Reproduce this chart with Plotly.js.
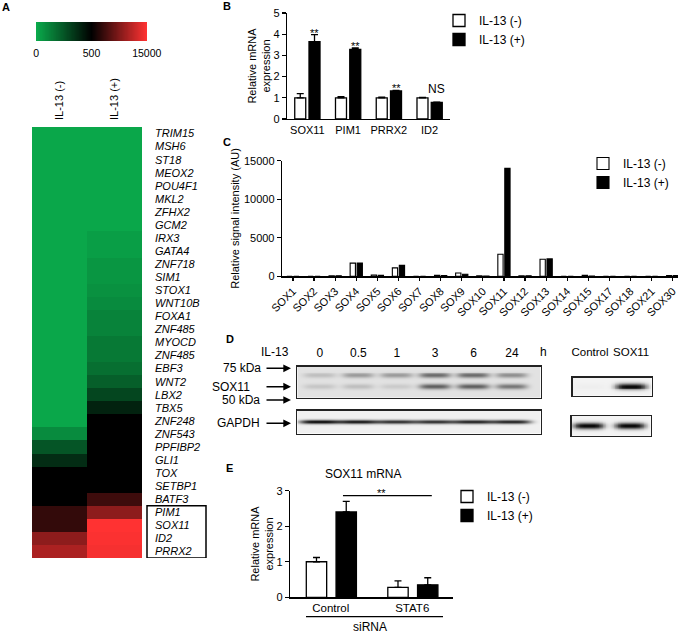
<!DOCTYPE html>
<html><head><meta charset="utf-8">
<script src="https://cdn.plot.ly/plotly-3.0.1.min.js"></script>
<style>html,body{margin:0;padding:0;background:#fff;}#chart{width:683px;height:635px;}</style>
</head><body><div id="chart"></div>
<script>
// ---------------- DATA ----------------
// Panel A heatmap (signal intensity estimates)
const heatGenes = ['TRIM15','MSH6','ST18','MEOX2','POU4F1','MKL2','ZFHX2','GCM2','IRX3','GATA4','ZNF718','SIM1','STOX1','WNT10B','FOXA1','ZNF485','MYOCD','ZNF485','EBF3','WNT2','LBX2','TBX5','ZNF248','ZNF543','PPFIBP2','GLI1','TOX','SETBP1','BATF3','PIM1','SOX11','ID2','PRRX2'];
const heatConditions = ['IL-13 (-)','IL-13 (+)'];
const heatMinus = [10,10,10,10,10,10,10,10,10,10,10,10,10,10,10,10,10,10,10,10,10,10,10,90,250,370,500,500,500,3400,3400,8500,10200];
const heatPlus  = [10,10,10,10,10,10,10,10,35,35,60,60,75,90,115,115,145,145,175,220,295,400,500,500,500,500,500,500,4000,8500,15000,14800,14500];
const heatBoxed = ['PIM1','SOX11','ID2','PRRX2'];
const cbTickValues = [0, 500, 15000];

// Panel B qPCR
const bGenes = ['SOX11','PIM1','PRRX2','ID2'];
const bMinus = [1.0, 1.0, 1.0, 1.0];
const bMinusErr = [0.2, 0.05, 0.03, 0.02];
const bPlus = [3.65, 3.28, 1.32, 0.78];
const bPlusErr = [0.33, 0.07, 0.03, 0.02];
const bSig = ['**','**','**','NS'];

// Panel C array signal
const cGenes = ['SOX1','SOX2','SOX3','SOX4','SOX5','SOX6','SOX7','SOX8','SOX9','SOX10','SOX11','SOX12','SOX13','SOX14','SOX15','SOX17','SOX18','SOX21','SOX30'];
const cMinus = [0, 0, 60, 1700, 150, 1080, 0, 120, 420, 40, 2850, 60, 2200, 0, 120, 0, 0, 0, 80];
const cPlus  = [0, 0, 60, 1700, 130, 1400, 0, 100, 260, 20, 14000, 50, 2250, 0, 20, 0, 0, 0, 80];
const cTicks = [0, 5000, 10000, 15000];

// Panel D western blot band intensities (0 = none, 1 = saturated)
const dTimes = ['0','0.5','1','3','6','24'];
const dUpperBand = [0.15, 0.3, 0.3, 0.5, 0.5, 0.35];
const dSox11Band = [0.12, 0.15, 0.1, 0.55, 0.55, 0.45];
const dGapdhBand = [0.95, 0.9, 0.8, 0.8, 0.85, 0.85];
const dCtrlLanes = ['Control','SOX11'];
const dCtrlSox11 = [0.02, 1.0];
const dCtrlGapdh = [1.0, 1.0];

// Panel E siRNA
const eGroups = ['Control','STAT6'];
const eMinus = [1.0, 0.28];
const eMinusErr = [0.12, 0.18];
const ePlus = [2.4, 0.35];
const ePlusErr = [0.3, 0.2];

// ---------------- HELPERS ----------------
const W = 683, H = 635;
const FONT = 'Liberation Sans, Arial, sans-serif';
const dx = (a,b) => [a/W, b/W];
const dy = (t,b) => [1-b/H, 1-t/H];
const px = p => p/W;
const py = p => 1-p/H;
function colorPos(v){ return v <= 500 ? 0.5*v/500 : 0.5 + 0.5*(v-500)/14500; }
const HEAT_CS = [[0,'rgb(10,170,75)'],[0.5,'rgb(0,0,0)'],[1,'rgb(255,50,50)']];
const BLOT_CS = [[0,'rgb(250,250,250)'],[1,'rgb(12,12,12)']];

function blotZ(xr, nx, ny, bg, bands){
  const xs=[], ys=[], z=[];
  for(let c=0;c<nx;c++) xs.push(xr[0]+(c+0.5)*(xr[1]-xr[0])/nx);
  for(let r=0;r<ny;r++) ys.push((r+0.5)/ny);
  for(let r=0;r<ny;r++){
    const row=[];
    for(let c=0;c<nx;c++){
      let v=bg;
      bands.forEach(b=>{
        const vy=Math.exp(-Math.pow((ys[r]-b.yc)/b.sy,2));
        b.vals.forEach((iv,i)=>{
          const hx=Math.exp(-Math.pow(Math.abs(xs[c]-i)/b.wx,4));
          v+=iv*hx*vy;
        });
      });
      row.push(Math.min(1,v));
    }
    z.push(row);
  }
  return {x:xs,y:ys,z:z};
}

const axBase = {showgrid:false, zeroline:false, fixedrange:true, automargin:false};
function lineAx(extra){ return Object.assign({}, axBase, {showline:true, linecolor:'#000', linewidth:1.3, tickcolor:'#000', tickwidth:1.2, tickfont:{size:11, family:FONT, color:'#000'}}, extra); }

// ---------------- TRACES ----------------
const traces = [];
// A heatmap
traces.push({type:'heatmap', x:[0,1], y:heatGenes.map((g,i)=>i),
  z: heatGenes.map((g,i)=>[colorPos(heatMinus[i]), colorPos(heatPlus[i])]),
  zmin:0, zmax:1, colorscale:HEAT_CS, showscale:false, hoverinfo:'skip', xaxis:'x', yaxis:'y'});
// A color key
const ramp=[]; for(let k=0;k<=200;k++) ramp.push(k/200);
traces.push({type:'heatmap', x:ramp, y:[0], z:[ramp], zmin:0, zmax:1, colorscale:HEAT_CS, showscale:false, hoverinfo:'skip', xaxis:'x2', yaxis:'y2'});

function errY(arr){ return {type:'data', array:arr, arrayminus:arr.map(()=>0), symmetric:false, color:'#000', thickness:1.3, width:3.5}; }
const whiteMk = {color:'#fff', line:{color:'#000', width:1.3}};
const blackMk = {color:'#000', line:{color:'#000', width:1.3}};

// B
traces.push({type:'bar', name:'IL-13 (-)', x:bGenes, y:bMinus, error_y:errY(bMinusErr), marker:whiteMk, width:0.27, offset:-0.31, xaxis:'x3', yaxis:'y3', legend:'legend', hoverinfo:'skip'});
traces.push({type:'bar', name:'IL-13 (+)', x:bGenes, y:bPlus, error_y:errY(bPlusErr), marker:blackMk, width:0.27, offset:0.04, xaxis:'x3', yaxis:'y3', legend:'legend', hoverinfo:'skip'});
// C
traces.push({type:'bar', name:'IL-13 (-)', x:cGenes, y:cMinus, marker:{color:'#fff', line:{color:'#000', width:1.1}}, width:0.25, offset:-0.29, xaxis:'x4', yaxis:'y4', legend:'legend2', hoverinfo:'skip'});
traces.push({type:'bar', name:'IL-13 (+)', x:cGenes, y:cPlus, marker:{color:'#000', line:{color:'#000', width:1.1}}, width:0.25, offset:0.04, xaxis:'x4', yaxis:'y4', legend:'legend2', hoverinfo:'skip'});

// D blots
const mainXR = [-0.59, 5.75];
const ctrlXR = [-0.42, 1.5];
const b1 = blotZ(mainXR, 240, 32, 0.1, [{vals:dUpperBand, yc:0.29, sy:0.085, wx:0.42},{vals:dSox11Band, yc:0.645, sy:0.085, wx:0.42}]);
traces.push({type:'heatmap', x:b1.x, y:b1.y, z:b1.z, zmin:0, zmax:1, colorscale:BLOT_CS, showscale:false, hoverinfo:'skip', xaxis:'x5', yaxis:'y5'});
const b2 = blotZ(mainXR, 240, 24, 0.04, [{vals:dGapdhBand, yc:0.5, sy:0.085, wx:0.52}]);
traces.push({type:'heatmap', x:b2.x, y:b2.y, z:b2.z, zmin:0, zmax:1, colorscale:BLOT_CS, showscale:false, hoverinfo:'skip', xaxis:'x6', yaxis:'y6'});
const b3 = blotZ(ctrlXR, 100, 20, 0.03, [{vals:dCtrlSox11, yc:0.5, sy:0.17, wx:0.38}]);
traces.push({type:'heatmap', x:b3.x, y:b3.y, z:b3.z, zmin:0, zmax:1, colorscale:BLOT_CS, showscale:false, hoverinfo:'skip', xaxis:'x7', yaxis:'y7'});
const b4 = blotZ(ctrlXR, 100, 20, 0.03, [{vals:dCtrlGapdh, yc:0.5, sy:0.16, wx:0.37}]);
traces.push({type:'heatmap', x:b4.x, y:b4.y, z:b4.z, zmin:0, zmax:1, colorscale:BLOT_CS, showscale:false, hoverinfo:'skip', xaxis:'x8', yaxis:'y8'});

// E
traces.push({type:'bar', name:'IL-13 (-)', x:eGroups, y:eMinus, error_y:errY(eMinusErr), marker:whiteMk, width:0.25, offset:-0.3, xaxis:'x9', yaxis:'y9', legend:'legend3', hoverinfo:'skip'});
traces.push({type:'bar', name:'IL-13 (+)', x:eGroups, y:ePlus, error_y:errY(ePlusErr), marker:blackMk, width:0.25, offset:0.065, xaxis:'x9', yaxis:'y9', legend:'legend3', hoverinfo:'skip'});

// ---------------- LAYOUT ----------------
const blotFrame = {showline:true, mirror:true, linecolor:'#222', linewidth:1.5, ticks:'', showticklabels:false};
const legendBase = {xanchor:'left', yanchor:'top', bgcolor:'rgba(0,0,0,0)', font:{size:12, family:FONT, color:'#000'}, traceorder:'normal'};
const layout = {
  width:W, height:H, margin:{l:0,r:0,t:0,b:0}, paper_bgcolor:'#fff', plot_bgcolor:'rgba(0,0,0,0)',
  font:{family:FONT, size:11, color:'#000'}, barmode:'group', showlegend:true,
  xaxis: Object.assign({}, axBase, {domain:dx(32,142), range:[-0.5,1.5], side:'top', tickvals:[0,1], ticktext:heatConditions, tickangle:-90, ticks:'', ticklabelstandoff:6, tickfont:{size:11, family:FONT}, anchor:'y'}),
  yaxis: Object.assign({}, axBase, {domain:dy(127,558), range:[heatGenes.length-0.5,-0.5], side:'right', tickvals:heatGenes.map((g,i)=>i), ticktext:heatGenes.map(g=>'<i>'+g+'</i>'), ticks:'', ticklabelstandoff:12, tickfont:{size:11, family:FONT}, anchor:'x'}),
  xaxis2: Object.assign({}, axBase, {domain:dx(36,147), range:[-0.0025,1.0025], tickvals:cbTickValues.map(colorPos), ticktext:cbTickValues.map(String), ticks:'', tickfont:{size:10.5, family:FONT}, ticklabelstandoff:4, anchor:'y2'}),
  yaxis2: Object.assign({}, axBase, {domain:dy(22,41), range:[-0.5,0.5], visible:false, anchor:'x2'}),
  xaxis3: lineAx({domain:dx(287,450), type:'category', range:[-0.5,3.5], ticks:'', anchor:'y3'}),
  yaxis3: lineAx({domain:dy(13,119), range:[0,5], dtick:1, ticks:'outside', ticklen:4, anchor:'x3',
    title:{text:'Relative mRNA<br>expression', font:{size:11, family:FONT}, standoff:0}}),
  xaxis4: lineAx({domain:dx(282,678), type:'category', range:[-0.52,18.25], ticks:'outside', ticklen:3, tickangle:-45, anchor:'y4'}),
  yaxis4: lineAx({domain:dy(160.7,276.2), range:[0,15000], tickvals:cTicks, ticktext:cTicks.map(String), ticks:'outside', ticklen:4, anchor:'x4',
    title:{text:'Relative signal intensity (AU)', font:{size:11, family:FONT}, standoff:2}}),
  xaxis5: Object.assign({}, axBase, blotFrame, {domain:dx(297.3,540.7), range:mainXR, side:'top', tickvals:dTimes.map((t,i)=>i), ticktext:dTimes, showticklabels:true, tickfont:{size:12, family:FONT}, ticklabelstandoff:3, anchor:'y5'}),
  yaxis5: Object.assign({}, axBase, blotFrame, {domain:dy(366.7,397.7), range:[1,0], anchor:'x5'}),
  xaxis6: Object.assign({}, axBase, blotFrame, {domain:dx(297.3,540.7), range:mainXR, anchor:'y6'}),
  yaxis6: Object.assign({}, axBase, blotFrame, {domain:dy(410.5,433.5), range:[1,0], anchor:'x6'}),
  xaxis7: Object.assign({}, axBase, blotFrame, {domain:dx(572.7,651.7), range:ctrlXR, side:'top', tickvals:[0,1], ticktext:dCtrlLanes, showticklabels:true, tickfont:{size:11.5, family:FONT}, ticklabelstandoff:16, anchor:'y7'}),
  yaxis7: Object.assign({}, axBase, blotFrame, {domain:dy(377.7,395.7), range:[1,0], anchor:'x7'}),
  xaxis8: Object.assign({}, axBase, blotFrame, {domain:dx(571.7,650.7), range:ctrlXR, anchor:'y8'}),
  yaxis8: Object.assign({}, axBase, blotFrame, {domain:dy(416,435.7), range:[1,0], anchor:'x8'}),
  xaxis9: lineAx({domain:dx(290,453), type:'category', range:[-0.5,1.5], ticks:'', tickfont:{size:11.5, family:FONT, color:'#000'}, anchor:'y9'}),
  yaxis9: lineAx({domain:dy(490.7,597.3), range:[0,3], dtick:1, ticks:'outside', ticklen:4, anchor:'x9',
    title:{text:'Relative mRNA<br>expression', font:{size:11, family:FONT}, standoff:0}}),
  legend:  Object.assign({}, legendBase, {x:px(439), y:py(6)}),
  legend2: Object.assign({}, legendBase, {x:px(583), y:py(149)}),
  legend3: Object.assign({}, legendBase, {x:px(447), y:py(482)}),
  shapes: [
    {type:'rect', xref:'paper', yref:'y', x0:px(147), x1:px(206), y0:heatGenes.indexOf(heatBoxed[0])-0.5, y1:heatGenes.indexOf(heatBoxed[heatBoxed.length-1])+0.5, line:{color:'#000', width:1.5}},
    {type:'line', xref:'x9', yref:'y9', x0:0.15, x1:1.24, y0:ePlus[0]+ePlusErr[0]+0.16, y1:ePlus[0]+ePlusErr[0]+0.16, line:{color:'#000', width:1.2}},
    {type:'line', xref:'paper', yref:'paper', x0:px(306), x1:px(443), y0:py(616.7), y1:py(616.7), line:{color:'#000', width:1.3}}
  ],
  annotations: []
};

const ann = layout.annotations;
function label(t, x, y, opts){ ann.push(Object.assign({text:t, x:px(x), y:py(y), xref:'paper', yref:'paper', xanchor:'center', yanchor:'middle', showarrow:false, font:{size:12, family:FONT, color:'#000'}}, opts||{})); }
// panel letters
label('<b>A</b>', 6, 7, {font:{size:11, family:FONT}});
label('<b>B</b>', 227, 6, {font:{size:11, family:FONT}});
label('<b>C</b>', 227, 142, {font:{size:11, family:FONT}});
label('<b>D</b>', 230, 339, {font:{size:11, family:FONT}});
label('<b>E</b>', 229, 468, {font:{size:11, family:FONT}});
// B significance
bSig.forEach((s,i)=>{
  const isNS = s==='NS';
  ann.push({text:s, xref:'x3', yref:'y3', x:i+0.175, y:bPlus[i]+bPlusErr[i], xanchor:'center', yanchor:'bottom', yshift:isNS?4:-6, showarrow:false, font:{size:isNS?12:11, family:FONT, color:'#000'}});
});
// D labels
label('IL-13', 275, 352);
label('h', 543, 352);
label('75 kDa', 263, 368.3, {xanchor:'right'});
label('SOX11', 252, 386.7, {xanchor:'right'});
label('50 kDa', 262, 400, {xanchor:'right'});
label('GAPDH', 262, 423.3, {xanchor:'right'});
[368.3, 386.7, 400, 423.3].forEach(yy=>{
  ann.push({text:'', x:px(291), y:py(yy), xref:'paper', yref:'paper', ax:-26, ay:0, axref:'pixel', ayref:'pixel', showarrow:true, arrowhead:2, arrowsize:1.1, arrowwidth:1.4, arrowcolor:'#000'});
});
// E
label('SOX11 mRNA', 363, 474.3);
ann.push({text:'**', xref:'x9', yref:'y9', x:0.625, y:ePlus[0]+ePlusErr[0]+0.16, xanchor:'center', yanchor:'bottom', yshift:-5, showarrow:false, font:{size:11, family:FONT, color:'#000'}});
label('siRNA', 370, 627.3);

Plotly.newPlot('chart', traces, layout, {staticPlot:true, displayModeBar:false});
</script>
</body></html>
